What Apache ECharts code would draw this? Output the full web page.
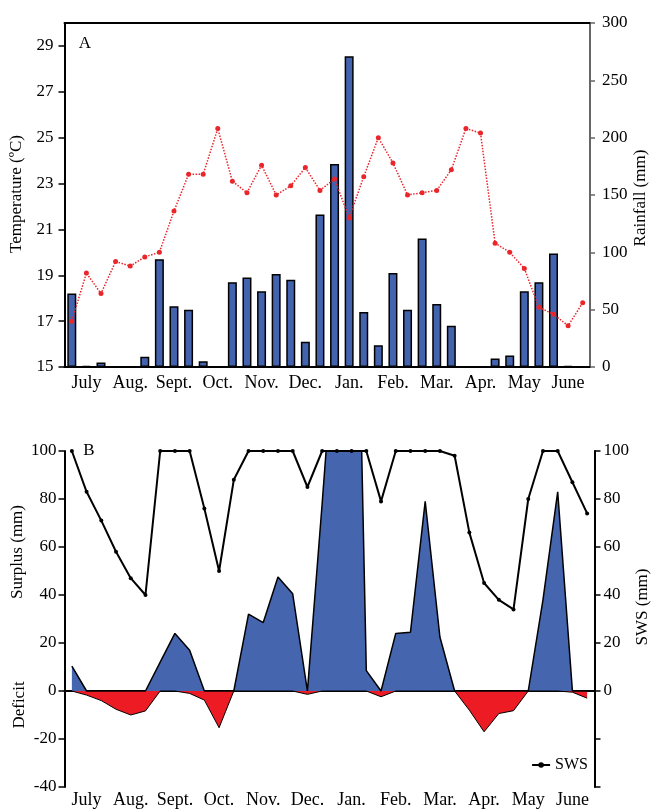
<!DOCTYPE html>
<html>
<head>
<meta charset="utf-8">
<script src="https://cdn.jsdelivr.net/npm/echarts@6/dist/echarts.min.js"></script>
<style>html,body{margin:0;padding:0;background:#fff}#c{width:651px;height:809px}</style>
</head>
<body>
<div id="c"></div>
<script>
const months = ['July','Aug.','Sept.','Oct.','Nov.','Dec.','Jan.','Feb.','Mar.','Apr.','May','June'];
const decades = months.flatMap(m => [m + ' 1', m + ' 2', m + ' 3']);
const tempTicks = [15,17,19,21,23,25,27,29];

const rainfall = [64,1,4,0,0,9,94,53,50,5,0,74,78,66,81,76,22,133,177,271,48,19,82,50,112,55,36,0,0,7.5,10,66,74,99,1,0];
const temperature = [17.0,19.1,18.2,19.6,19.4,19.8,20.0,21.8,23.4,23.4,25.4,23.1,22.6,23.8,22.5,22.9,23.7,22.7,23.2,21.5,23.3,25.0,23.9,22.5,22.6,22.7,23.6,25.4,25.2,20.4,20.0,19.3,17.6,17.3,16.8,17.8];
const sws = [100,83,71,58,47,40,100,100,100,76,50,88,100,100,100,100,85,100,100,100,100,79,100,100,100,100,98,66,45,38,34,80,100,100,87,74];
const surplus = [10.4,0,0,0,0,0,12,24,17,0,0,0,32,28.5,47.5,40.5,0,78,160,300,8.5,0,24,24.5,79,22.5,0,0,0,0,0,0,38,83,0,0];
const deficit = [0,-1.7,-4,-7.6,-10,-8.3,0,0,-1,-3.8,-15.3,0,0,0,0,0,-1.4,0,0,0,0,-2.4,0,0,0,0,0,-8,-17,-9.4,-8.2,0,0,0,-0.5,-3];

const FONT = 'Liberation Serif';
const txt = {color:'#000', fontFamily:FONT, fontSize:17};
const monthLabel = {interval:(i)=>i%3===1, formatter:(v)=>v.slice(0, v.lastIndexOf(' ')), color:'#000', fontFamily:FONT, fontSize:18};
const gtext = (text, x, y, rot) => ({type:'text', x, y, rotation:rot ? Math.PI/2 : 0,
  style:{text, align:'center', verticalAlign:'middle', fill:'#000', font:'17px "Liberation Serif"'}});

const chart = echarts.init(document.getElementById('c'), null, {renderer:'canvas'});
chart.setOption({
  animation:false,
  backgroundColor:'#fff',
  grid:[
    {left:64.5, right:61, top:23, bottom:442},
    {left:64.5, right:56.5, top:451, bottom:22}
  ],
  legend:{
    data:['SWS'], right:63, top:757, itemWidth:18, itemHeight:7, itemGap:4,
    textStyle:{color:'#000', fontFamily:FONT, fontSize:16}, padding:0
  },
  xAxis:[
    {type:'category', gridIndex:0, data:decades, boundaryGap:true, position:'bottom',
     axisLine:{lineStyle:{color:'#000', width:2}},
     axisTick:{interval:(i)=>i%3===0, length:5, lineStyle:{color:'#000', width:1.5}},
     axisLabel:{...monthLabel, margin:7}},
    {type:'category', gridIndex:0, data:decades, position:'top',
     axisLine:{lineStyle:{color:'#000', width:2}},
     axisTick:{show:false}, axisLabel:{show:false}},
    {type:'category', gridIndex:1, data:decades, boundaryGap:true, position:'bottom',
     axisLine:{show:false, onZero:false}, axisTick:{show:false},
     axisLabel:{...monthLabel, margin:4}},
    {type:'category', gridIndex:1, data:decades, boundaryGap:true, position:'top',
     axisLine:{onZero:true, lineStyle:{color:'#000', width:2}},
     axisTick:{interval:(i)=>i%3===0, inside:true, length:5, lineStyle:{color:'#000', width:1.5}},
     axisLabel:{show:false}}
  ],
  yAxis:[
    {type:'value', gridIndex:0, position:'left', min:15, max:30,
     axisLine:{show:true, lineStyle:{color:'#000', width:2}},
     axisTick:{show:true, customValues:tempTicks, length:6, lineStyle:{color:'#000', width:1.5}},
     axisLabel:{customValues:tempTicks, margin:11, ...txt},
     splitLine:{show:false}},
    {type:'value', gridIndex:0, position:'right', min:0, max:300, interval:50,
     axisLine:{show:true, lineStyle:{color:'#666', width:2}},
     axisTick:{show:true, length:5, lineStyle:{color:'#666', width:1.5}},
     axisLabel:{margin:12, ...txt},
     splitLine:{show:false}},
    {type:'value', gridIndex:1, position:'left', min:-40, max:100, interval:20,
     axisLine:{show:true, lineStyle:{color:'#000', width:2}},
     axisTick:{show:true, length:6, lineStyle:{color:'#000', width:1.5}},
     axisLabel:{margin:8, ...txt},
     splitLine:{show:false}},
    {type:'value', gridIndex:1, position:'right', min:-40, max:100, interval:20,
     axisLine:{show:true, lineStyle:{color:'#000', width:2}},
     axisTick:{show:true, length:6, lineStyle:{color:'#000', width:1.5}},
     axisLabel:{margin:9, formatter:(v)=> v < 0 ? '' : String(v), ...txt},
     splitLine:{show:false}}
  ],
  graphic:[
    gtext('A', 85, 44, false),
    gtext('B', 89, 451, false),
    gtext('Temperature (ºC)', 17, 194, true),
    gtext('Rainfall (mm)', 641, 198, true),
    gtext('Surplus (mm)', 18, 552, true),
    gtext('Deficit', 20, 705, true),
    gtext('SWS (mm)', 643, 607, true)
  ],
  series:[
    {name:'Rainfall', type:'bar', xAxisIndex:0, yAxisIndex:1, data:rainfall, barWidth:9,
     itemStyle:{color:'#4463AE', borderColor:'#000', borderWidth:1.5}, z:2},
    {name:'Temperature', type:'line', xAxisIndex:0, yAxisIndex:0, data:temperature,
     symbol:'circle', symbolSize:5, itemStyle:{color:'#E8262B'},
     lineStyle:{color:'#E8262B', width:1.5, type:'dotted'}, z:3},
    {name:'Surplus', type:'line', xAxisIndex:2, yAxisIndex:2, data:surplus, symbol:'none',
     lineStyle:{color:'#000', width:1.5}, areaStyle:{color:'#4565AE', opacity:1}, z:2},
    {name:'Deficit', type:'line', xAxisIndex:2, yAxisIndex:2, data:deficit, symbol:'none',
     lineStyle:{color:'#000', width:1}, areaStyle:{color:'#ED1C24', opacity:1}, z:2},
    {name:'SWS', type:'line', xAxisIndex:2, yAxisIndex:3, data:sws, symbol:'circle', symbolSize:4,
     itemStyle:{color:'#000'}, lineStyle:{color:'#000', width:2}, z:4}
  ]
});
</script>
</body>
</html>
